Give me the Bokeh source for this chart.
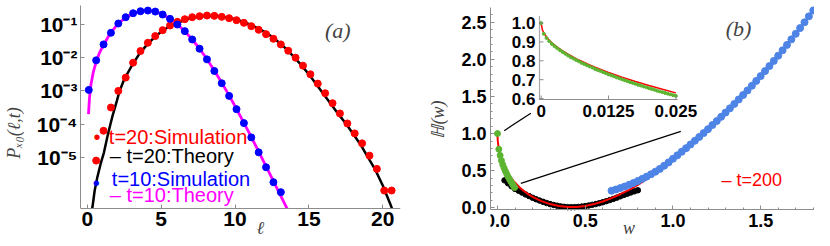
import numpy as np
from bokeh.plotting import figure
from bokeh.layouts import row
from bokeh.models import Range1d, FixedTicker, SingleIntervalTicker, Label, PrintfTickFormatter
from bokeh.core.properties import value
from bokeh.embed import file_html
from bokeh.resources import INLINE

# ---------------- panel (a) data (log10 of P) ----------------
sim20_l = [0.6, 1.1, 1.6, 2.1, 2.6, 3.1, 3.6, 4.1, 4.6, 5.1, 5.6, 6.1, 6.6, 7.1, 7.6, 8.1,
           8.6, 9.1, 9.6, 10.1, 10.6, 11.1, 11.6, 12.1, 12.6, 13.1, 13.6, 14.1, 14.6,
           15.1, 15.6, 16.1, 16.6, 17.1, 17.6, 18.1, 18.6, 19.1, 19.6, 20.1, 20.6]
sim20_log = [-5.1, -4.2, -3.5, -3.0, -2.6, -2.15, -1.8, -1.55, -1.35, -1.17, -1.03, -0.92,
             -0.84, -0.78, -0.75, -0.73, -0.74, -0.77, -0.81, -0.87, -0.95, -1.05, -1.16,
             -1.29, -1.43, -1.6, -1.79, -2.0, -2.24, -2.5, -2.78, -3.07, -3.37, -3.68, -3.98,
             -4.28, -4.58, -4.95, -5.35, -6.0, -6.0]
sim10_l = [0.1, 0.6, 1.1, 1.6, 2.1, 2.6, 3.1, 3.6, 4.1, 4.6, 5.1, 5.6, 6.1, 6.6, 7.1, 7.6,
           8.1, 8.6, 9.1, 9.6, 10.1, 10.6, 11.1, 11.6, 12.1, 12.6, 13.1]
sim10_log = [-2.97, -2.08, -1.6, -1.25, -0.97, -0.78, -0.66, -0.6, -0.58, -0.61, -0.7, -0.83,
             -1.0, -1.2, -1.45, -1.73, -2.05, -2.4, -2.77, -3.15, -3.55, -3.97, -4.4, -4.85,
             -5.3, -5.75, -6.05]
th20_l = [0.33, 0.35, 0.5, 0.68, 0.9, 1.13, 1.4, 1.68, 2.0, 2.19, 2.5, 3.0, 3.5, 4.0, 4.5,
          5.0, 5.5, 6.0, 6.5, 7.0, 7.5, 8.0, 8.5, 9.0, 9.5, 10.0, 10.5, 11.0, 11.5, 12.0,
          12.5, 13.0, 13.5, 14.0, 14.5, 15.0, 15.5, 16.0, 16.5, 17.0, 17.5, 18.0, 18.5, 19.0,
          19.5, 20.0, 20.5, 20.62]
th20_log = [-6.54, -6.5, -6.0, -5.6, -5.2, -4.85, -4.3, -3.8, -3.3, -3.0, -2.65, -2.25, -1.9,
            -1.63, -1.4, -1.22, -1.07, -0.97, -0.88, -0.81, -0.77, -0.745, -0.74, -0.755,
            -0.79, -0.84, -0.91, -1.0, -1.1, -1.22, -1.37, -1.55, -1.75, -1.98, -2.23, -2.5,
            -2.8, -3.1, -3.4, -3.7, -3.98, -4.3, -4.62, -5.0, -5.38, -5.85, -6.4, -6.54]
th10_l = [0.08, 0.15, 0.25, 0.4, 0.6, 0.8, 1.0, 1.5, 2.0, 2.5, 3.0, 3.5, 4.0, 4.5, 5.0, 5.5,
          6.0, 6.5, 7.0, 7.5, 8.0, 8.5, 9.0, 9.5, 10.0, 10.5, 11.0, 11.5, 12.0, 12.5, 13.0,
          13.5, 13.52]
th10_log = [-3.7, -3.2, -2.8, -2.45, -2.12, -1.88, -1.7, -1.3, -1.02, -0.82, -0.69, -0.61,
            -0.58, -0.6, -0.67, -0.8, -0.96, -1.16, -1.4, -1.67, -1.98, -2.32, -2.68, -3.06,
            -3.46, -3.88, -4.3, -4.74, -5.18, -5.63, -6.08, -6.52, -6.54]

a_xticks = [0, 5, 10, 15, 20]
a_yticks = [1e-5, 1e-4, 1e-3, 1e-2, 1e-1]
a_ylabels = ["10⁻⁵", "10⁻⁴", "10⁻³", "10⁻²", "10⁻¹"]
a_legend = ["t=20:Simulation", "– t=20:Theory", "t=10:Simulation", "– t=10:Theory"]
a_legend_colors = ["#ff0000", "#000000", "#0000ff", "#ff00ff"]

# ---------------- panel (b) data ----------------
th_w = [0, 0.00025, 0.0005, 0.001, 0.0015, 0.002, 0.003, 0.004, 0.005, 0.006, 0.007, 0.008,
        0.009, 0.01, 0.0125, 0.015, 0.0175, 0.02, 0.0225, 0.025, 0.03, 0.04, 0.05, 0.06, 0.07,
        0.08, 0.09, 0.1, 0.125, 0.15, 0.175, 0.2, 0.25, 0.3, 0.35, 0.4, 0.45, 0.5, 0.55, 0.6,
        0.65, 0.7, 0.75, 0.8, 0.85, 0.9, 0.95, 1.0, 1.05, 1.1, 1.15, 1.2, 1.25, 1.3, 1.35,
        1.4, 1.45, 1.5, 1.55, 1.6, 1.65, 1.7, 1.75, 1.8, 1.85]
th_H = [1.0, 0.963, 0.948, 0.926, 0.909, 0.895, 0.872, 0.852, 0.835, 0.819, 0.804, 0.791,
        0.778, 0.766, 0.738, 0.713, 0.69, 0.669, 0.649, 0.63, 0.6, 0.548, 0.503, 0.463, 0.428,
        0.396, 0.366, 0.339, 0.278, 0.227, 0.185, 0.148, 0.09, 0.05, 0.024, 0.012, 0.012,
        0.025, 0.05, 0.085, 0.13, 0.183, 0.243, 0.31, 0.385, 0.468, 0.565, 0.66, 0.755,
        0.853, 0.955, 1.06, 1.17, 1.283, 1.4, 1.52, 1.645, 1.775, 1.91, 2.05, 2.195, 2.345,
        2.5, 2.66, 2.82]
green_w = [0, 0.0075, 0.015, 0.0225, 0.03, 0.0375, 0.045, 0.0525, 0.06, 0.0675, 0.075,
           0.0825, 0.09, 0.0975]
green_H = [1.0, 0.789, 0.706, 0.636, 0.581, 0.535, 0.494, 0.456, 0.42, 0.389, 0.357, 0.328,
           0.3, 0.272]
black_w = [0.04, 0.06, 0.08, 0.1, 0.12, 0.14, 0.16, 0.18, 0.2, 0.22, 0.24, 0.26, 0.28, 0.3,
           0.32, 0.34, 0.36, 0.38, 0.4, 0.42, 0.44, 0.46, 0.48, 0.5, 0.52, 0.54, 0.56, 0.58,
           0.6, 0.62, 0.64, 0.66, 0.68, 0.7, 0.72, 0.74, 0.76, 0.78, 0.8]
black_H = [0.37, 0.33, 0.29, 0.255, 0.23, 0.205, 0.18, 0.158, 0.135, 0.115, 0.097, 0.08,
           0.064, 0.05, 0.038, 0.028, 0.019, 0.013, 0.009, 0.008, 0.009, 0.012, 0.017, 0.023,
           0.031, 0.04, 0.05, 0.062, 0.075, 0.089, 0.104, 0.12, 0.137, 0.155, 0.173, 0.19,
           0.207, 0.222, 0.236]
blue_w = [0.65, 0.675, 0.7, 0.725, 0.75, 0.775, 0.8, 0.825, 0.85, 0.875, 0.9, 0.925, 0.95,
          0.975, 1.0, 1.025, 1.05, 1.075, 1.1, 1.125, 1.15, 1.175, 1.2, 1.225, 1.25, 1.275,
          1.3, 1.325, 1.35, 1.375, 1.4, 1.425, 1.45, 1.475, 1.5, 1.525, 1.55, 1.575, 1.6,
          1.625, 1.65, 1.675, 1.7, 1.725, 1.75, 1.775, 1.8]
blue_H = [0.23, 0.247, 0.266, 0.287, 0.31, 0.335, 0.362, 0.39, 0.42, 0.452, 0.487, 0.524,
          0.567, 0.612, 0.66, 0.707, 0.755, 0.804, 0.853, 0.904, 0.955, 1.007, 1.06, 1.115,
          1.17, 1.226, 1.283, 1.341, 1.4, 1.46, 1.52, 1.582, 1.645, 1.71, 1.775, 1.842, 1.91,
          1.98, 2.05, 2.122, 2.195, 2.27, 2.345, 2.422, 2.5, 2.58, 2.66]
# inset (zoom of small w)
inset_w = [0, 0.0005, 0.001, 0.0015, 0.002, 0.0025, 0.003, 0.0035, 0.004, 0.0045, 0.005,
           0.0055, 0.006, 0.0065, 0.007, 0.0075, 0.008, 0.0085, 0.009, 0.0095, 0.01, 0.0105,
           0.011, 0.0115, 0.012, 0.0125, 0.013, 0.0135, 0.014, 0.0145, 0.015, 0.0155, 0.016,
           0.0165, 0.017, 0.0175, 0.018, 0.0185, 0.019, 0.0195, 0.02, 0.0205, 0.021, 0.0215,
           0.022, 0.0225, 0.023, 0.0235, 0.024, 0.0245, 0.025]
inset_green_H = [1.0, 0.943, 0.921, 0.904, 0.889, 0.877, 0.866, 0.856, 0.846, 0.837, 0.828,
                 0.819, 0.812, 0.804, 0.797, 0.789, 0.783, 0.776, 0.77, 0.764, 0.757, 0.751,
                 0.746, 0.74, 0.734, 0.728, 0.723, 0.718, 0.712, 0.707, 0.702, 0.697, 0.692,
                 0.687, 0.683, 0.678, 0.673, 0.669, 0.664, 0.66, 0.655, 0.651, 0.647, 0.642,
                 0.638, 0.634, 0.63, 0.626, 0.622, 0.618, 0.614]
inset_xticks = [0, 0.0125, 0.025]
inset_xlabels = ["0", "0.0125", "0.025"]
inset_yticks = [0.6, 0.7, 0.8, 0.9, 1.0]
inset_ylabels = ["0.6", "0.7", "0.8", "0.9", "1.0"]
# connector lines from the main panel to the inset (main data coords)
conn_x0 = [0.038, 0.133]
conn_y0 = [1.04, 0.33]
conn_x1 = [0.19, 1.045]
conn_y1 = [1.275, 1.03]

AXIS_GRAY = "#8c8c8c"
SANS = "Liberation Sans"
SERIF = "Liberation Serif"
EM = "\u2003"
EN = "\u2002"
FIG_H = 238
FR_H = FIG_H                     # frames fill the whole height; x axes sit at a fixed location


def style_axis(ax, size):
    ax.axis_line_color = AXIS_GRAY
    ax.major_tick_line_color = AXIS_GRAY
    ax.minor_tick_line_color = AXIS_GRAY
    ax.major_tick_in = 4
    ax.major_tick_out = 0
    ax.minor_tick_in = 2
    ax.minor_tick_out = 0
    ax.major_label_text_font = SANS
    ax.major_label_text_font_style = "bold"
    ax.major_label_text_font_size = size
    ax.major_label_text_color = "black"
    ax.axis_label_text_font = SERIF
    ax.axis_label_text_font_style = "italic"
    ax.axis_label_text_color = "#444444"
    ax.axis_label_text_font_size = "18px"


# ---------------- figure (a) ----------------
def a_log_at(ypix):              # log10 value at a vertical pixel of the panel
    return -1 - (ypix - 24) / 33.2


pa = figure(width=412, height=FIG_H, output_backend="svg", toolbar_location=None,
            x_range=Range1d(-0.46, 21.2),
            y_range=Range1d(10 ** a_log_at(FR_H), 10 ** a_log_at(0)),
            y_axis_type="log", min_border_left=73, min_border_right=12,
            min_border_top=0, min_border_bottom=0)
pa.outline_line_color = None
pa.grid.visible = False
for ax in (pa.xaxis[0], pa.yaxis[0]):
    style_axis(ax, "21px")
pa.xaxis.ticker = FixedTicker(ticks=a_xticks)
pa.xaxis.fixed_location = 10 ** a_log_at(208)
pa.yaxis.bounds = (10 ** a_log_at(208), 10 ** a_log_at(5))
pa.yaxis.ticker = FixedTicker(ticks=a_yticks)
pa.yaxis.major_label_overrides = dict(zip(a_yticks, a_ylabels))
pa.xaxis.major_label_standoff = 3
pa.yaxis.major_label_standoff = 3
pa.yaxis.axis_label = "Pₓ₀(ℓ,t)" + EM + EN
pa.yaxis.axis_label_standoff = 10

pa.line(th20_l, 10 ** np.array(th20_log), line_color="black", line_width=2.5)
pa.line(th10_l, 10 ** np.array(th10_log), line_color="#ff00ff", line_width=2.8)
pa.scatter(sim20_l, 10 ** np.array(sim20_log), size=7, color="#ff0000")
pa.scatter(sim10_l, 10 ** np.array(sim10_log), size=7, color="#0000ff")

leg_x = [1.46, 1.52, 1.66, 1.52]
leg_y = [-4.40, -4.95, -5.64, -6.15]
for t, c, lx, ly in zip(a_legend, a_legend_colors, leg_x, leg_y):
    pa.add_layout(Label(x=lx, y=10 ** ly, text=t, text_color=c, text_font=SANS,
                        text_font_size="20px", text_align="left", text_baseline="middle"))
for c, lx, ly in zip(["#ff0000", "#0000ff"], [0.66, 0.6], [-4.40, -5.76]):
    pa.add_layout(Label(x=lx, y=10 ** ly, text="•", text_color=c, text_font=SANS,
                        text_font_size="20px", text_align="center", text_baseline="middle"))
pa.add_layout(Label(x=16.95, y=10 ** -1.18, text="(a)", text_font=SERIF,
                    text_font_style="italic", text_font_size="22px", text_align="center",
                    text_baseline="middle"))
pa.add_layout(Label(x=11.7, y=10 ** a_log_at(227), text="ℓ", text_font=SERIF,
                    text_font_style="italic", text_font_size="18px", text_color="#444444",
                    text_align="center", text_baseline="middle"))

# ---------------- figure (b) ----------------
FR_W = 324


def b_H_at(ypix):                # H value at a vertical pixel of the panel
    return (207.3 - ypix) / 74.2


pb = figure(width=402, height=FIG_H, output_backend="svg", toolbar_location=None,
            x_range=Range1d(-0.04, 1.807), y_range=Range1d(b_H_at(FR_H), b_H_at(0)),
            min_border_left=78, min_border_right=0, min_border_top=0, min_border_bottom=0)
pb.outline_line_color = None
pb.grid.visible = False
for ax in (pb.xaxis[0], pb.yaxis[0]):
    style_axis(ax, "18px")
    ax.formatter = PrintfTickFormatter(format="%.1f")
pb.xaxis.ticker = SingleIntervalTicker(interval=0.5, num_minor_ticks=5)
pb.yaxis.ticker = SingleIntervalTicker(interval=0.5, num_minor_ticks=5)
pb.xaxis.fixed_location = b_H_at(209)
pb.yaxis.bounds = (b_H_at(209), b_H_at(7))
pb.xaxis.major_label_standoff = 4
pb.yaxis.major_label_standoff = 4
pb.yaxis.axis_label = "ℍ(w)"
pb.yaxis.axis_label_standoff = 10

pb.segment(conn_x0, conn_y0, conn_x1, conn_y1, line_color="black", line_width=1.2)
pb.scatter(black_w, black_H, size=5.5, color="black")
pb.line(th_w, th_H, line_color="#ff0000", line_width=2)
pb.scatter(green_w, green_H, size=6, color="#5cb531")
pb.scatter(blue_w, blue_H, size=7, color="#4d84e6")
pb.add_layout(Label(x=1.374, y=2.416, text="(b)", text_font=SERIF, text_font_style="italic",
                    text_font_size="22px", text_align="center", text_baseline="middle"))
pb.add_layout(Label(x=1.277, y=0.368, text="– t=200", text_color="#ff0000", text_font=SANS,
                    text_font_size="18px", text_align="left", text_baseline="middle"))
pb.add_layout(Label(x=0.75, y=b_H_at(227), text="w", text_font=SERIF,
                    text_font_style="italic", text_font_size="18px", text_color="#444444",
                    text_align="center", text_baseline="middle"))

# ---------------- inset drawn inside panel (b) on its own scales ----------------
IN_X0, IN_X1 = -0.0003, 0.0253
IN_Y0, IN_Y1 = 0.595, 1.04
box_l, box_r, box_t, box_b = 49, 187, 15, 99     # inset box in frame pixels
sx = (box_r - box_l) / (IN_X1 - IN_X0)
sy = (box_b - box_t) / (IN_Y1 - IN_Y0)
pb.extra_x_ranges = {"in": Range1d(IN_X0 - box_l / sx, IN_X0 + (FR_W - box_l) / sx)}
pb.extra_y_ranges = {"in": Range1d(IN_Y0 - (FR_H - box_b) / sy, IN_Y1 + box_t / sy)}
R = dict(x_range_name="in", y_range_name="in")

pb.quad(left=[IN_X0], right=[IN_X1], bottom=[IN_Y0], top=[IN_Y1], fill_color="white",
        line_color=None, **R)
sel = [i for i, w in enumerate(th_w) if w <= 0.025]
pb.line([th_w[i] for i in sel], [th_H[i] for i in sel], line_color="#ff0000", line_width=1.5, **R)
pb.scatter(inset_w, inset_green_H, size=3, color="#5cb531", **R)
# inset axes
pb.segment([IN_X0], [IN_Y0], [IN_X1], [IN_Y0], line_color=AXIS_GRAY, line_width=1, **R)
pb.segment([IN_X0], [IN_Y0], [IN_X0], [IN_Y1], line_color="#555555", line_width=1.2,
           line_dash="1 1", **R)
tk = 4 / sy
pb.segment(inset_xticks, [IN_Y0] * 3, inset_xticks, [IN_Y0 + tk] * 3, line_color=AXIS_GRAY, **R)
tkx = 4 / sx
pb.segment([IN_X0] * 5, inset_yticks, [IN_X0 + tkx] * 5, inset_yticks, line_color=AXIS_GRAY, **R)
pb.text(x=inset_xticks, y=[IN_Y0] * 3, text=inset_xlabels, y_offset=5,
        text_font=value(SANS), text_font_style=value("bold"), text_font_size=value("17px"),
        text_color="black", text_align=value("center"), text_baseline=value("top"), **R)
pb.text(x=[IN_X0] * 5, y=inset_yticks, text=inset_ylabels, x_offset=-4,
        text_font=value(SANS), text_font_style=value("bold"), text_font_size=value("17px"),
        text_color="black", text_align=value("right"), text_baseline=value("middle"), **R)

layout = row(pa, pb)
open("out.html", "w").write(file_html(layout, INLINE))
